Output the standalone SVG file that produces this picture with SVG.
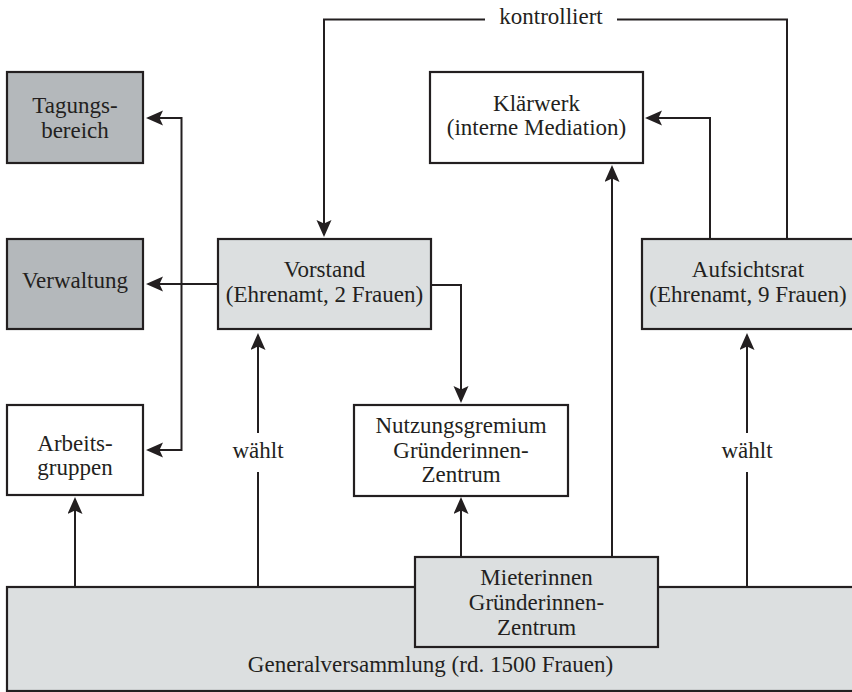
<svg xmlns="http://www.w3.org/2000/svg" width="852" height="692" viewBox="0 0 852 692">
<style>
.box{stroke:#231f20;stroke-width:2.2}
.dark{fill:#b4b8bb}
.light{fill:#dcdfe0}
.white{fill:#ffffff}
.ln{fill:none;stroke:#231f20;stroke-width:2}
.arr{marker-end:url(#ah)}
text{font-family:"Liberation Serif","Times New Roman",serif;font-size:23px;fill:#231f20;text-anchor:middle}
</style>
<defs>
<marker id="ah" markerUnits="userSpaceOnUse" markerWidth="18" markerHeight="16" viewBox="0 0 18 16" refX="15" refY="7.5" orient="auto">
<path d="M0,0 L17,7.5 L0,15 L3.5,7.5 z" fill="#231f20"/>
</marker>
</defs>
<rect width="852" height="692" fill="#ffffff"/>

<g id="connectors">
<polyline class="ln arr" points="485,19.5 324,19.5 324,235"/>
<polyline class="ln" points="617,19.5 787,19.5 787,239"/>
<polyline class="ln arr" points="710,239 710,118 647,118"/>
<line class="ln arr" x1="612" y1="557" x2="612" y2="167"/>
<polyline class="ln arr" points="431,285 461,285 461,401"/>
<line class="ln arr" x1="218" y1="284" x2="148" y2="284"/>
<polyline class="ln arr" points="181.5,284 181.5,118 148,118"/>
<polyline class="ln arr" points="181.5,284 181.5,450 148,450"/>
<line class="ln arr" x1="258" y1="433" x2="258" y2="335"/>
<line class="ln" x1="258" y1="472" x2="258" y2="587"/>
<line class="ln arr" x1="747" y1="433" x2="747" y2="335"/>
<line class="ln" x1="747" y1="472" x2="747" y2="587"/>
<line class="ln arr" x1="75" y1="587" x2="75" y2="499"/>
<line class="ln arr" x1="461" y1="557" x2="461" y2="499"/>
<text x="551" y="24">kontrolliert</text>
<text x="258" y="458">wählt</text>
<text x="747" y="458">wählt</text>
</g>

<g id="generalversammlung">
<rect class="box light" x="7" y="587" width="850" height="104"/>
<text x="430.5" y="672">Generalversammlung (rd. 1500 Frauen)</text>
</g>

<g id="mieterinnen">
<rect class="box light" x="415" y="557" width="243" height="90"/>
<text x="536.5" y="585">Mieterinnen</text>
<text x="536.5" y="610">Gründerinnen-</text>
<text x="536.5" y="635">Zentrum</text>
</g>

<g id="tagungsbereich">
<rect class="box dark" x="7" y="72" width="136" height="91"/>
<text x="75" y="113">Tagungs-</text>
<text x="75" y="138">bereich</text>
</g>

<g id="verwaltung">
<rect class="box dark" x="7" y="239" width="136" height="90"/>
<text x="75" y="288">Verwaltung</text>
</g>

<g id="arbeitsgruppen">
<rect class="box white" x="7" y="405" width="136" height="90"/>
<text x="75" y="451">Arbeits-</text>
<text x="75" y="475">gruppen</text>
</g>

<g id="vorstand">
<rect class="box light" x="218" y="239" width="213" height="90"/>
<text x="324.5" y="277">Vorstand</text>
<text x="324.5" y="302">(Ehrenamt, 2 Frauen)</text>
</g>

<g id="klaerwerk">
<rect class="box white" x="430" y="72" width="213" height="91"/>
<text x="536.5" y="111">Klärwerk</text>
<text x="536.5" y="135">(interne Mediation)</text>
</g>

<g id="aufsichtsrat">
<rect class="box light" x="642" y="239" width="215" height="90"/>
<text x="748" y="277">Aufsichtsrat</text>
<text x="748" y="302">(Ehrenamt, 9 Frauen)</text>
</g>

<g id="nutzungsgremium">
<rect class="box white" x="354" y="405" width="214" height="91"/>
<text x="461" y="433">Nutzungsgremium</text>
<text x="461" y="458">Gründerinnen-</text>
<text x="461" y="482">Zentrum</text>
</g>
</svg>
